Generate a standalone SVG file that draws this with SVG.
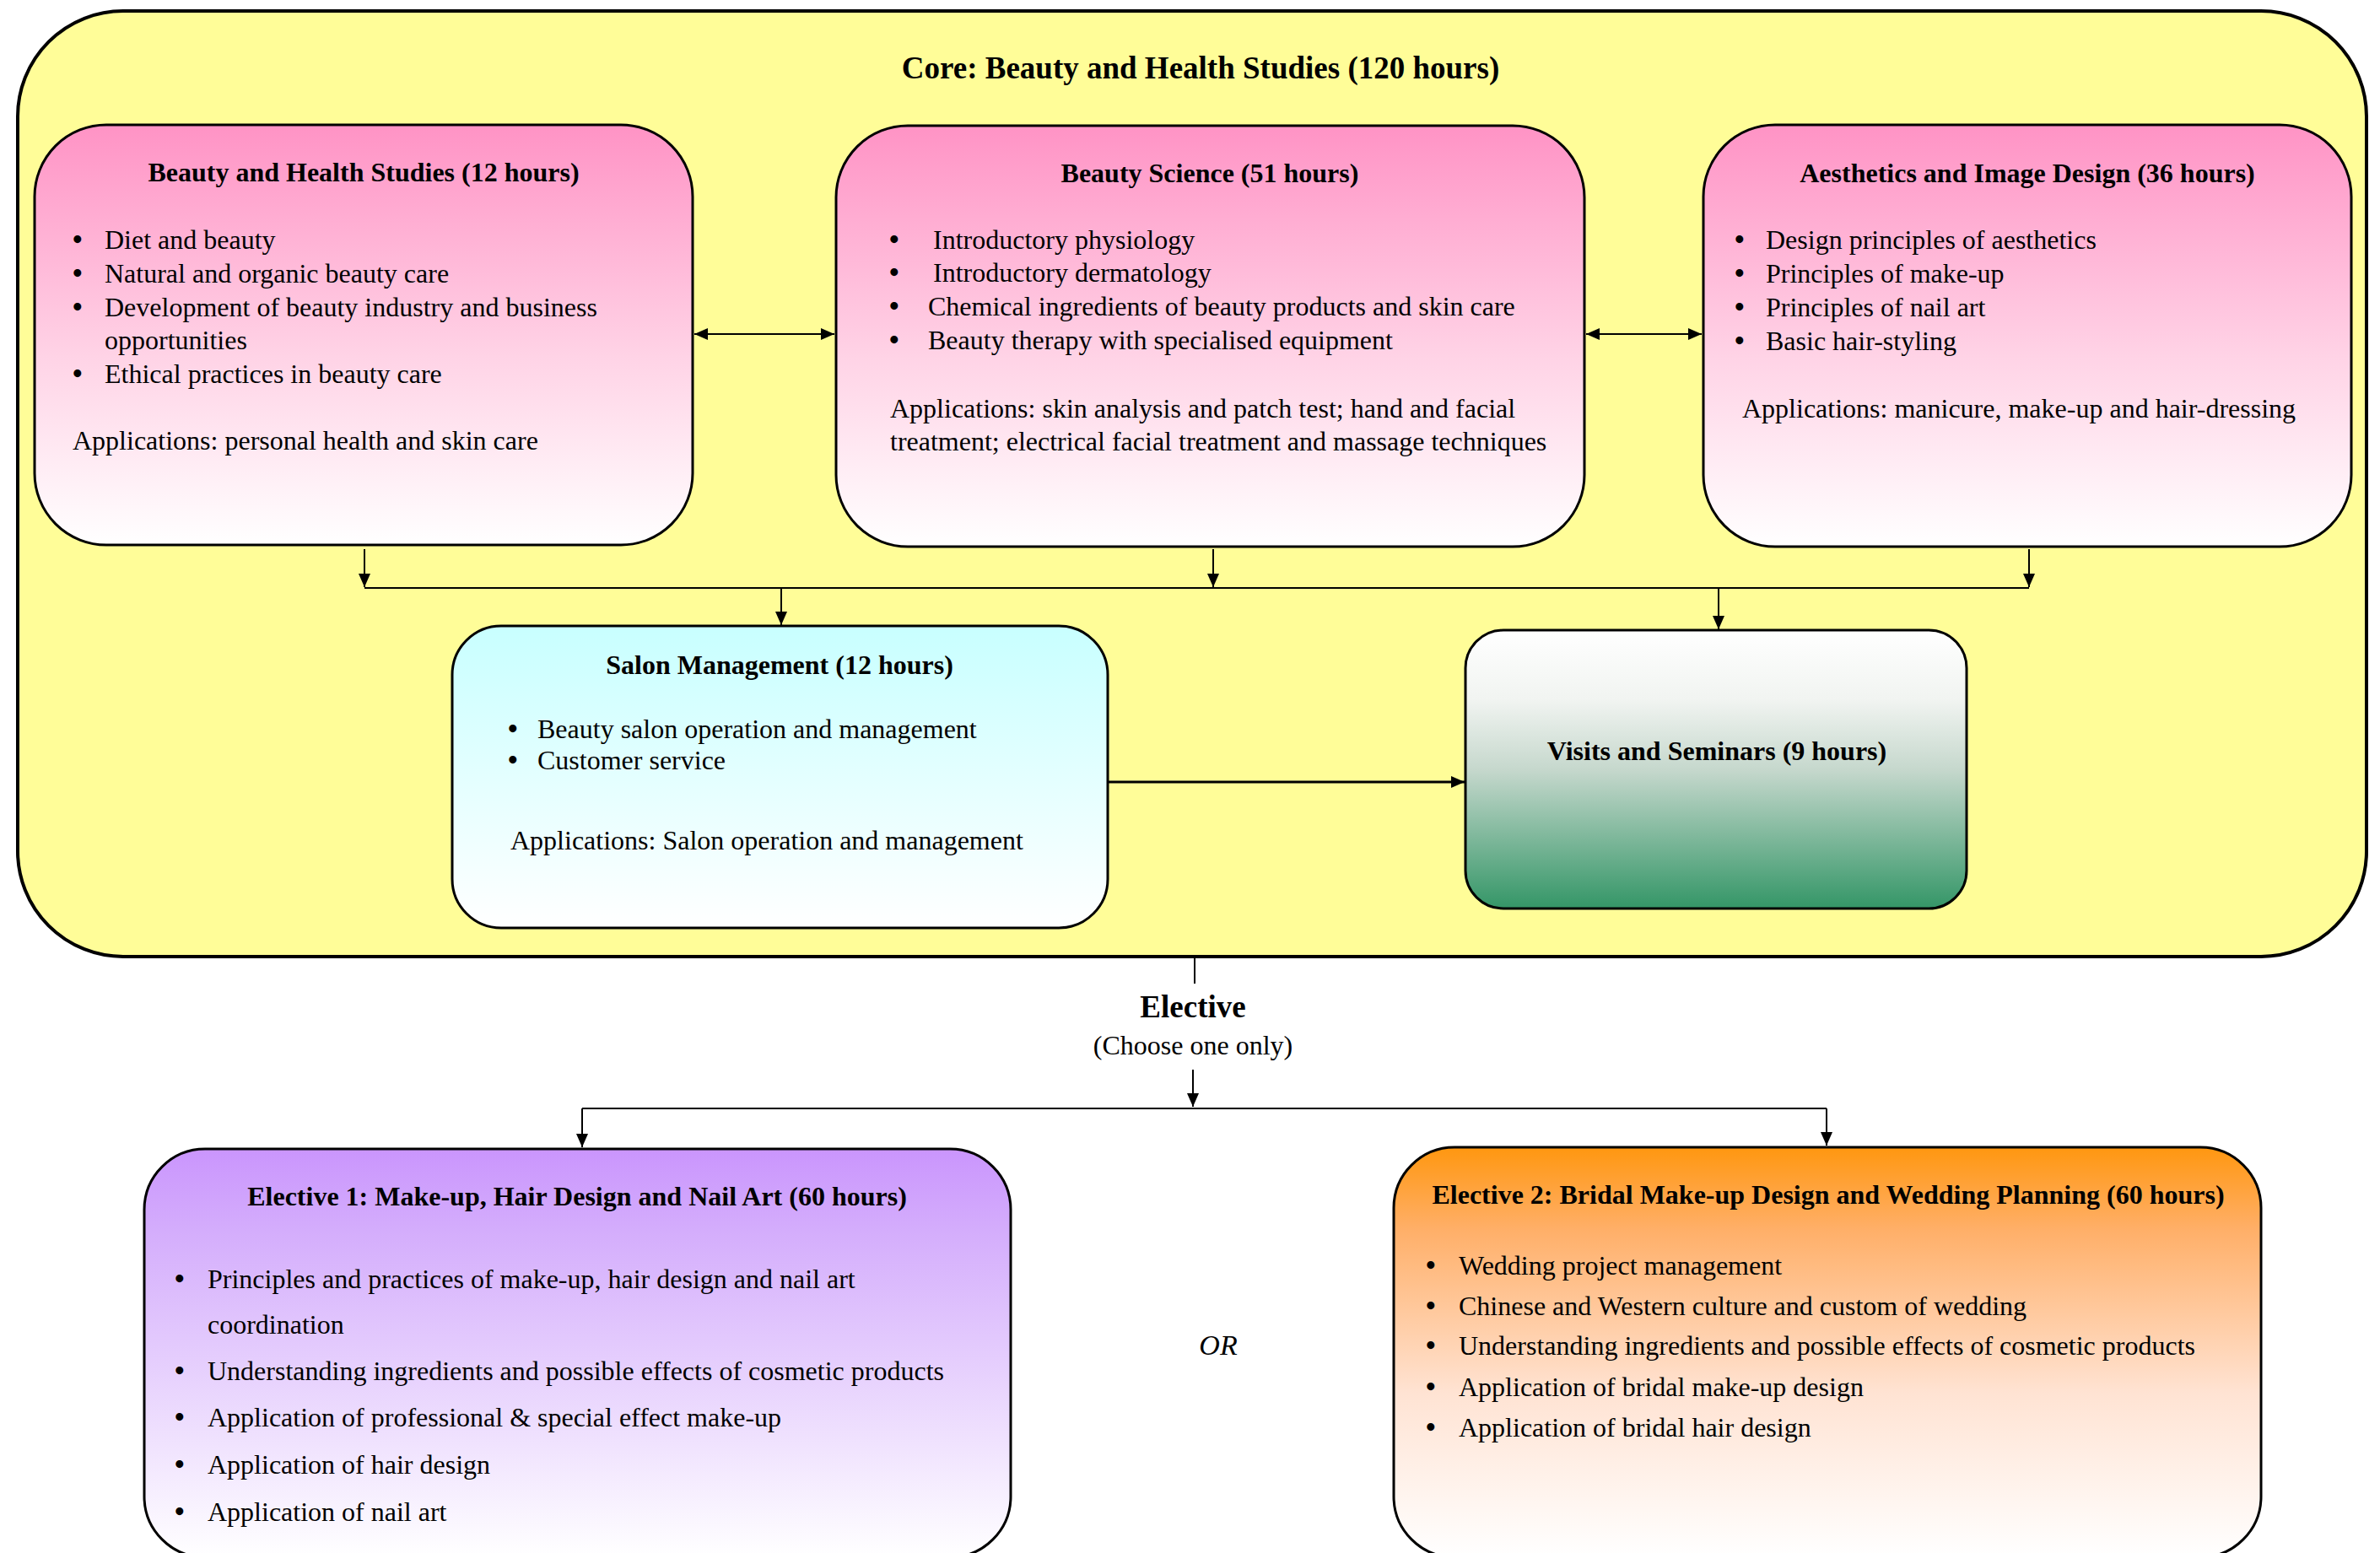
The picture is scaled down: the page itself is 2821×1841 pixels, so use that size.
<svg xmlns="http://www.w3.org/2000/svg" width="2821" height="1841" viewBox="0 0 2821 1841">
<style>
text{font-family:"Liberation Serif","Times New Roman",serif;fill:#000}
.t{font-size:32px;font-weight:bold;text-anchor:middle}
.b{font-size:32px}
.d{font-size:33px;font-weight:bold}
.box{stroke:#000;stroke-width:3}
.c{stroke:#000;stroke-width:2;fill:none}
</style>
<defs>
<linearGradient id="gPink" x1="0" y1="0" x2="0" y2="1"><stop offset="0" stop-color="#FF93C5"/><stop offset="0.55" stop-color="#FFD3E6"/><stop offset="1" stop-color="#FFFFFF"/></linearGradient>
<linearGradient id="gCyan" x1="0" y1="0" x2="0" y2="1"><stop offset="0" stop-color="#C8FFFF"/><stop offset="1" stop-color="#FFFFFF"/></linearGradient>
<linearGradient id="gGreen" x1="0" y1="0" x2="0" y2="1"><stop offset="0" stop-color="#FFFFFF"/><stop offset="0.25" stop-color="#F1F4F1"/><stop offset="0.5" stop-color="#C6D8CD"/><stop offset="1" stop-color="#349667"/></linearGradient>
<linearGradient id="gPurple" x1="0" y1="0" x2="0" y2="1"><stop offset="0" stop-color="#CA95FD"/><stop offset="0.2" stop-color="#D4ADFC"/><stop offset="1" stop-color="#FFFFFF"/></linearGradient>
<linearGradient id="gOrange" x1="0" y1="0" x2="0" y2="1"><stop offset="0" stop-color="#FF9710"/><stop offset="0.2" stop-color="#FFAF68"/><stop offset="0.6" stop-color="#FFE3D3"/><stop offset="1" stop-color="#FFFFFF"/></linearGradient>
<marker id="ah" markerWidth="16" markerHeight="14" refX="16" refY="7" orient="auto-start-reverse" markerUnits="userSpaceOnUse"><path d="M0,0 L16,7 L0,14 z" fill="#000"/></marker>
</defs>

<g id="core">
<rect x="21" y="13" width="2784" height="1121" rx="125" ry="125" fill="#FFFD98" stroke="#000" stroke-width="4"/>
<text x="1423" y="93" class="t" style="font-size:37px">Core: Beauty and Health Studies (120 hours)</text>
</g>

<g id="beauty-health">
<rect class="box" x="41" y="148" width="780" height="498" rx="85" ry="85" fill="url(#gPink)"/>
<text x="431" y="215" class="t">Beauty and Health Studies (12 hours)</text>
<text y="295" class="b"><tspan x="86" class="d">•</tspan><tspan x="124">Diet and beauty</tspan></text>
<text y="335" class="b"><tspan x="86" class="d">•</tspan><tspan x="124">Natural and organic beauty care</tspan></text>
<text y="375" class="b"><tspan x="86" class="d">•</tspan><tspan x="124">Development of beauty industry and business</tspan></text>
<text x="124" y="414" class="b">opportunities</text>
<text y="454" class="b"><tspan x="86" class="d">•</tspan><tspan x="124">Ethical practices in beauty care</tspan></text>
<text x="86" y="533" class="b">Applications: personal health and skin care</text>
</g>

<g id="beauty-science">
<rect class="box" x="991" y="149" width="887" height="499" rx="85" ry="85" fill="url(#gPink)"/>
<text x="1434" y="216" class="t">Beauty Science (51 hours)</text>
<text y="295" class="b"><tspan x="1054" class="d">•</tspan><tspan x="1106">Introductory physiology</tspan></text>
<text y="334" class="b"><tspan x="1054" class="d">•</tspan><tspan x="1106">Introductory dermatology</tspan></text>
<text y="374" class="b"><tspan x="1054" class="d">•</tspan><tspan x="1100">Chemical ingredients of beauty products and skin care</tspan></text>
<text y="414" class="b"><tspan x="1054" class="d">•</tspan><tspan x="1100">Beauty therapy with specialised equipment</tspan></text>
<text x="1055" y="495" class="b">Applications: skin analysis and patch test; hand and facial</text>
<text x="1055" y="534" class="b">treatment; electrical facial treatment and massage techniques</text>
</g>

<g id="aesthetics">
<rect class="box" x="2019" y="148" width="768" height="500" rx="85" ry="85" fill="url(#gPink)"/>
<text x="2403" y="216" class="t">Aesthetics and Image Design (36 hours)</text>
<text y="295" class="b"><tspan x="2056" class="d">•</tspan><tspan x="2093">Design principles of aesthetics</tspan></text>
<text y="335" class="b"><tspan x="2056" class="d">•</tspan><tspan x="2093">Principles of make-up</tspan></text>
<text y="375" class="b"><tspan x="2056" class="d">•</tspan><tspan x="2093">Principles of nail art</tspan></text>
<text y="415" class="b"><tspan x="2056" class="d">•</tspan><tspan x="2093">Basic hair-styling</tspan></text>
<text x="2065" y="495" class="b">Applications: manicure, make-up and hair-dressing</text>
</g>

<g id="salon">
<rect class="box" x="536" y="742" width="777" height="358" rx="58" ry="58" fill="url(#gCyan)"/>
<text x="924" y="799" class="t">Salon Management (12 hours)</text>
<text y="875" class="b"><tspan x="602" class="d">•</tspan><tspan x="637">Beauty salon operation and management</tspan></text>
<text y="912" class="b"><tspan x="602" class="d">•</tspan><tspan x="637">Customer service</tspan></text>
<text x="605" y="1007" class="b">Applications: Salon operation and management</text>
</g>

<g id="visits">
<rect class="box" x="1737" y="747" width="594" height="330" rx="45" ry="45" fill="url(#gGreen)"/>
<text x="2035" y="901" class="t">Visits and Seminars (9 hours)</text>
</g>

<g id="elective-label">
<text x="1414" y="1206" class="t" style="font-size:37px">Elective</text>
<text x="1414" y="1250" class="b" text-anchor="middle">(Choose one only)</text>
<text x="1444" y="1606" style="font-size:34px;font-style:italic" text-anchor="middle">OR</text>
</g>

<g id="elective1">
<rect class="box" x="171" y="1362" width="1027" height="484" rx="72" ry="72" fill="url(#gPurple)"/>
<text x="684" y="1429" class="t">Elective 1: Make-up, Hair Design and Nail Art (60 hours)</text>
<text y="1527" class="b"><tspan x="207" class="d">•</tspan><tspan x="246">Principles and practices of make-up, hair design and nail art</tspan></text>
<text x="246" y="1581" class="b">coordination</text>
<text y="1636" class="b"><tspan x="207" class="d">•</tspan><tspan x="246">Understanding ingredients and possible effects of cosmetic products</tspan></text>
<text y="1691" class="b"><tspan x="207" class="d">•</tspan><tspan x="246">Application of professional &amp; special effect make-up</tspan></text>
<text y="1747" class="b"><tspan x="207" class="d">•</tspan><tspan x="246">Application of hair design</tspan></text>
<text y="1803" class="b"><tspan x="207" class="d">•</tspan><tspan x="246">Application of nail art</tspan></text>
</g>

<g id="elective2">
<rect class="box" x="1652" y="1360" width="1028" height="486" rx="72" ry="72" fill="url(#gOrange)"/>
<text x="2167" y="1427" class="t">Elective 2: Bridal Make-up Design and Wedding Planning (60 hours)</text>
<text y="1511" class="b"><tspan x="1690" class="d">•</tspan><tspan x="1729">Wedding project management</tspan></text>
<text y="1559" class="b"><tspan x="1690" class="d">•</tspan><tspan x="1729">Chinese and Western culture and custom of wedding</tspan></text>
<text y="1606" class="b"><tspan x="1690" class="d">•</tspan><tspan x="1729">Understanding ingredients and possible effects of cosmetic products</tspan></text>
<text y="1655" class="b"><tspan x="1690" class="d">•</tspan><tspan x="1729">Application of bridal make-up design</tspan></text>
<text y="1703" class="b"><tspan x="1690" class="d">•</tspan><tspan x="1729">Application of bridal hair design</tspan></text>
</g>

<g id="connectors">
<line class="c" x1="823" y1="396" x2="989" y2="396" marker-start="url(#ah)" marker-end="url(#ah)"/>
<line class="c" x1="1880" y1="396" x2="2017" y2="396" marker-start="url(#ah)" marker-end="url(#ah)"/>
<line class="c" x1="432" y1="651" x2="432" y2="696" marker-end="url(#ah)"/>
<line class="c" x1="1438" y1="651" x2="1438" y2="696" marker-end="url(#ah)"/>
<line class="c" x1="2405" y1="651" x2="2405" y2="696" marker-end="url(#ah)"/>
<line class="c" x1="432" y1="697" x2="2405" y2="697"/>
<line class="c" x1="926" y1="697" x2="926" y2="741" marker-end="url(#ah)"/>
<line class="c" x1="2037" y1="697" x2="2037" y2="746" marker-end="url(#ah)"/>
<line class="c" style="stroke-width:3" x1="1314" y1="927" x2="1736" y2="927" marker-end="url(#ah)"/>
<line class="c" x1="1416" y1="1136" x2="1416" y2="1166"/>
<line class="c" x1="1414" y1="1268" x2="1414" y2="1312" marker-end="url(#ah)"/>
<line class="c" x1="690" y1="1314" x2="2165" y2="1314"/>
<line class="c" x1="690" y1="1314" x2="690" y2="1360" marker-end="url(#ah)"/>
<line class="c" x1="2165" y1="1314" x2="2165" y2="1358" marker-end="url(#ah)"/>
</g>
</svg>
